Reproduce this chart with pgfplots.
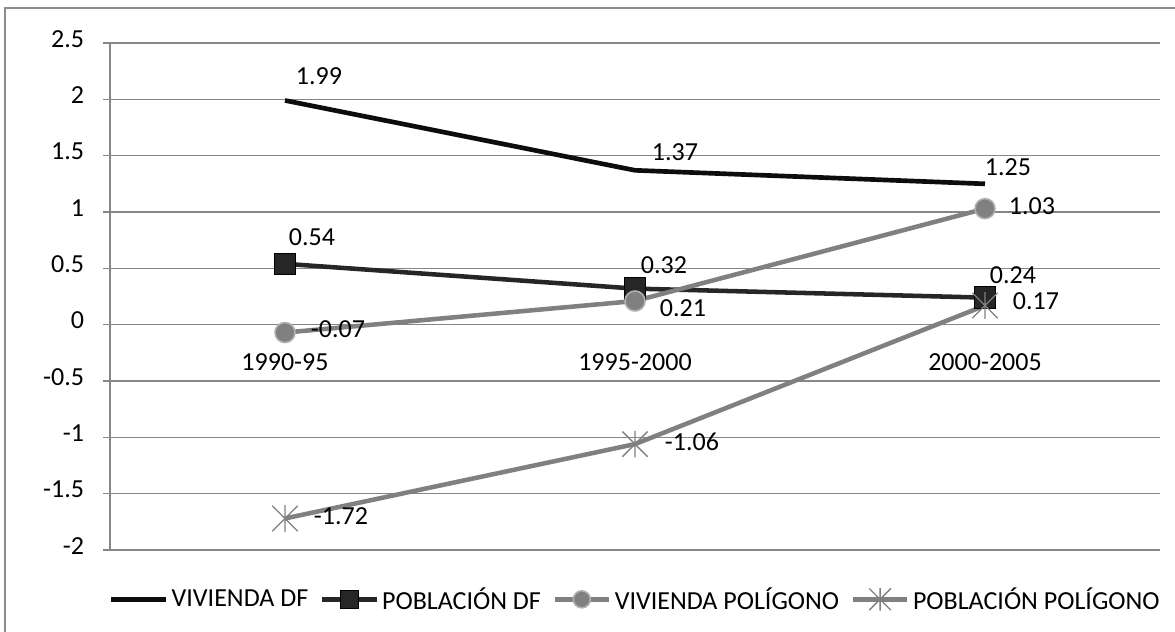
\documentclass[border=0pt]{standalone}
\usepackage{pgfplots}
\pgfplotsset{compat=1.18}
\usepackage{pgfplotstable}
\usepackage{fontspec}
\setmainfont{Carlito}
\definecolor{gridcol}{HTML}{868686}
\definecolor{framecol}{HTML}{8C8C8C}
\definecolor{vdf}{HTML}{0D0D0D}
\definecolor{pdf}{HTML}{262626}
\definecolor{poly}{HTML}{808080}
\definecolor{polyedge}{HTML}{B0B0B0}

\pgfdeclareplotmark{xstar}{%
  \pgfpathmoveto{\pgfqpoint{0pt}{\pgfplotmarksize}}%
  \pgfpathlineto{\pgfqpoint{0pt}{-\pgfplotmarksize}}%
  \pgfpathmoveto{\pgfqpoint{-0.95\pgfplotmarksize}{-0.95\pgfplotmarksize}}%
  \pgfpathlineto{\pgfqpoint{0.95\pgfplotmarksize}{0.95\pgfplotmarksize}}%
  \pgfpathmoveto{\pgfqpoint{-0.95\pgfplotmarksize}{0.95\pgfplotmarksize}}%
  \pgfpathlineto{\pgfqpoint{0.95\pgfplotmarksize}{-0.95\pgfplotmarksize}}%
  \pgfusepathqstroke}

% x y label dx dy (dx, dy in pt)
\pgfplotstableread{
x y lab dx dy
0.5 1.99 1.99 25.5 15
1.5 1.37 1.37 30 10.5
2.5 1.25 1.25 17.25 9.75
}\vdftab
\pgfplotstableread{
x y lab dx dy
0.5 0.54 0.54 20.25 17.25
1.5 0.32 0.32 21.75 14.25
2.5 0.24 0.24 21 13.5
}\pdftab
\pgfplotstableread{
x y lab dx dy
0.5 -0.07 -0.07 39.75 -0.75
1.5 0.21 0.21 36 -8.25
2.5 1.03 1.03 35.25 -1.5
}\vptab
\pgfplotstableread{
x y lab dx dy
0.5 -1.72 -1.72 42 -1.5
1.5 -1.06 -1.06 42.75 -1.5
2.5 0.17 0.17 38.25 0
}\pptab

\begin{document}
\begin{tikzpicture}[font=\fontsize{19.5}{23}\selectfont]
\useasboundingbox (-82.5pt,-61.5pt) rectangle (798.75pt,412.5pt);
\draw[framecol, line width=0.8pt] (-78.75pt,406.5pt) rectangle (810pt,-80pt);
\begin{axis}[
  at={(0pt,0pt)}, anchor=south west,
  scale only axis, width=787.5pt, height=380.25pt,
  xmin=0, xmax=3, ymin=-2, ymax=2.5,
  axis x line=middle, axis y line=left,
  axis line style={draw=gridcol, line width=1pt, -},
  xtick={0.5,1.5,2.5},
  xticklabels={1990-95,1995-2000,2000-2005},
  xtick style={draw=none},
  xticklabel style={anchor=center, inner sep=0pt, text height=0.632em, text depth=0pt, yshift=-25.9pt},
  ytick={-2,-1.5,-1,-0.5,0,0.5,1,1.5,2,2.5},
  yticklabels={-2,-1.5,-1,-0.5,0,0.5,1,1.5,2,2.5},
  yticklabel style={anchor=east, inner sep=0pt, text height=0.632em, text depth=0pt, xshift=-14pt},
  ytick style={draw=gridcol, line width=1pt},
  tick align=outside, major tick length=5.25pt,
  ymajorgrids, grid style={draw=gridcol, line width=1pt},
  clip=false,
  point meta=explicit symbolic,
  nodes near coords,
  visualization depends on={\thisrow{dx} \as \dx},
  visualization depends on={\thisrow{dy} \as \dy},
  every node near coord/.append style={anchor=center, inner sep=0pt, text height=0.632em, text depth=0pt, text=black, xshift=\dx pt, yshift=\dy pt},
  legend columns=4,
  legend style={at={(0.5,0)}, anchor=center, yshift=-37pt, draw=none, fill=none,
    nodes={inner sep=1pt}, cells={anchor=west},
    /tikz/every odd column/.append style={column sep=1.5pt},
    /tikz/every even column/.append style={column sep=7.5pt}},
  legend image code/.code={\draw[mark repeat=2,mark phase=2,#1,every mark/.append style={scale=0.85}] plot coordinates {(0pt,0pt) (20.5pt,0pt) (41pt,0pt)};},
]
\addplot[vdf, line width=3.5pt, no markers] table[x=x, y=y, meta=lab] {\vdftab};
\addlegendentry{VIVIENDA DF}
\addplot[pdf, line width=3.4pt, mark=square*, mark size=8pt, mark options={fill=pdf, draw=black, line width=0.8pt}] table[x=x, y=y, meta=lab] {\pdftab};
\addlegendentry{POBLACIÓN DF}
\addplot[poly, line width=3.4pt, mark=*, mark size=7.5pt, mark options={fill=poly, draw=polyedge, line width=1.2pt}] table[x=x, y=y, meta=lab] {\vptab};
\addlegendentry{VIVIENDA POLÍGONO}
\addplot[poly, line width=3.4pt, mark=xstar, mark size=10pt, mark options={draw=poly, line width=1pt}] table[x=x, y=y, meta=lab] {\pptab};
\addlegendentry{POBLACIÓN POLÍGONO}
\end{axis}
\end{tikzpicture}
\end{document}
